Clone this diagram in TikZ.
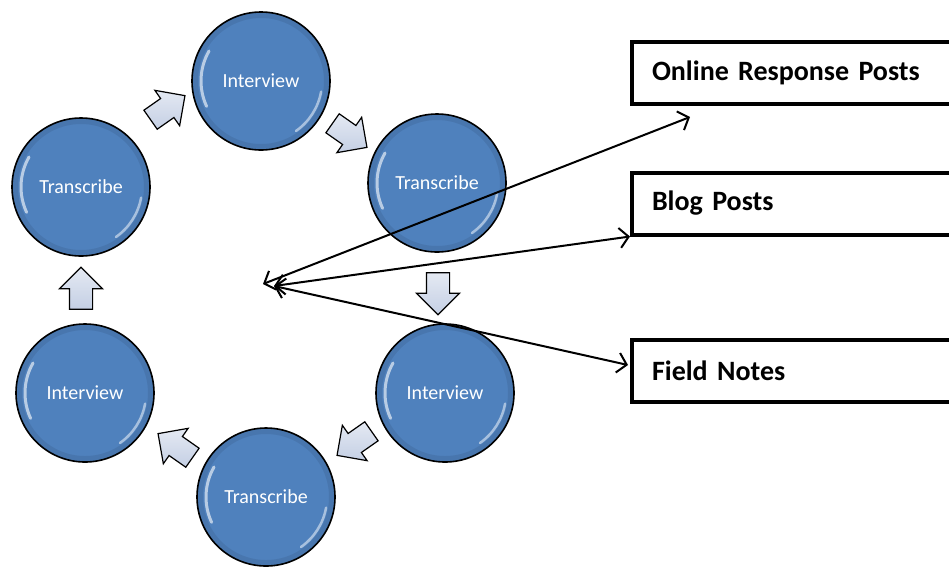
\documentclass[tikz,border=0pt]{standalone}
\usepackage{fontspec}
\setmainfont{Carlito}
\usetikzlibrary{arrows.meta,shapes.arrows}
\definecolor{ballblue}{RGB}{79,129,189}
\definecolor{arrowfill}{RGB}{196,207,228}
\begin{document}
\begin{tikzpicture}[x=1pt,y=-1pt,
  ball/.style={circle, minimum size=138pt, inner sep=0pt, draw=black, line width=1.6pt,
    fill=ballblue, text=white, font=\fontsize{20}{24}\selectfont,
    path picture={
      \fill[black, opacity=0.08, even odd rule] (path picture bounding box.center) circle[radius=69pt] circle[radius=63pt];
      \draw[white, opacity=0.6, line width=3pt, line cap=round]
        ([shift={(150:60pt)}]path picture bounding box.center) arc[start angle=150, end angle=205, radius=60pt];
      \draw[white, opacity=0.5, line width=2.5pt, line cap=round]
        ([shift={(-10:61pt)}]path picture bounding box.center) arc[start angle=-10, end angle=-55, radius=61pt];
    }},
  blk/.style={single arrow, draw=black, line width=1.2pt, top color=arrowfill!45!white, bottom color=arrowfill,
    minimum height=42pt, inner xsep=0pt, inner ysep=11pt, single arrow head extend=10pt},
  src/.style={draw=black, line width=4pt, minimum width=340pt, minimum height=62pt, anchor=west,
    text width=300pt, align=left, inner xsep=20pt, font=\bfseries\fontsize{28}{33}\selectfont},
  conn/.style={line width=2pt, {Straight Barb[length=9pt,width=20pt]}-{Straight Barb[length=9pt,width=20pt]}}
]
\useasboundingbox (0,0) rectangle (949,566);
\fill[white] (0,0) rectangle (949,566);

% cycle of circles
\node[ball] (i1) at (261,81) {Interview};
\node[ball] (t1) at (437,183) {Transcribe};
\node[ball] (i2) at (445,393) {Interview};
\node[ball] (t2) at (266,497) {Transcribe};
\node[ball] (i3) at (85,393) {Interview};
\node[ball] (t3) at (81,187) {Transcribe};

% block arrows
\node[blk, rotate=35]  (a1) at (163,111) {};
\node[blk, rotate=-35] (a2) at (345,132) {};
\node[blk, rotate=-90] (a3) at (438,288) {};
\node[blk, rotate=215] (a4) at (359,440) {};
\node[blk, rotate=145] (a5) at (180,449) {};
\node[blk, rotate=90]  (a6) at (81,294) {};

% source boxes
\node[src] (onl) at (630,73) {Online Response Posts};
\node[src] (blog) at (630,203.5) {Blog Posts};
\node[src] (field) at (630,370.5) {Field Notes};

% connectors
\coordinate (hub) at (263,284);
\coordinate (hub2) at (274,286);
\coordinate (onlend) at (690,117);
\coordinate (fieldend) at (628,365);
\draw[conn] (hub) -- (onlend);
\draw[conn] (hub2) -- (blog.south west);
\draw[conn] (hub2) -- (fieldend);
\end{tikzpicture}
\end{document}
